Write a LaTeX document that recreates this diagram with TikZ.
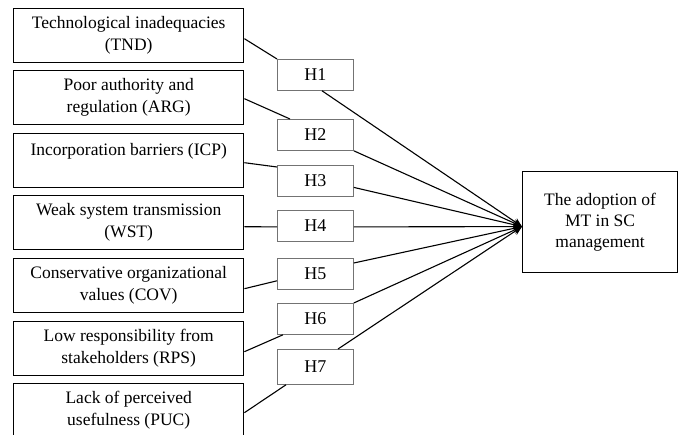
\documentclass[tikz,border=0pt]{standalone}
\usepackage{fontspec}
\setmainfont{Liberation Serif}
\usetikzlibrary{calc,arrows.meta}
\begin{document}
\begin{tikzpicture}[x=1pt,y=-1pt,
  fbox/.style={draw=black,line width=1.4pt,minimum width=230pt,minimum height=54pt,
    inner sep=0pt,align=center,anchor=north west,font=\fontsize{17.5}{22}\selectfont},
  hbox/.style={draw=black!55,line width=0.8pt,minimum width=76pt,minimum height=31pt,
    inner sep=0pt,anchor=north west,font=\fontsize{18}{22}\selectfont},
  tbox/.style={draw=black,line width=1.2pt,minimum width=155pt,minimum height=101pt,
    inner sep=0pt,align=center,anchor=north west,font=\fontsize{17.5}{21}\selectfont},
  link/.style={draw=black,line width=1.1pt},
  arr/.style={link,-{Stealth[length=9pt,width=8pt]}}]
\clip (0,0) rectangle (680,435);
\fill[white] (0,0) rectangle (680,435);
% left boxes
\node[fbox] (TND) at (13,8)   {Technological inadequacies\\(TND)};
\node[fbox] (ARG) at (13,70)  {Poor authority and\\regulation (ARG)};
\node[fbox] (ICP) at (13,133) {Incorporation barriers (ICP)\\\mbox{}};
\node[fbox] (WST) at (13,195) {Weak system transmission\\(WST)};
\node[fbox] (COV) at (13,258) {Conservative organizational\\values (COV)};
\node[fbox] (RPS) at (13,321) {Low responsibility from\\stakeholders (RPS)};
\node[fbox] (PUC) at (13,383) {Lack of perceived\\usefulness (PUC)};
% hypothesis boxes
\node[hbox] (H1) at (277,59)  {H1};
\node[hbox] (H2) at (277,119) {H2};
\node[hbox] (H3) at (277,165) {H3};
\node[hbox] (H4) at (277,210) {H4};
\node[hbox] (H5) at (277,258) {H5};
\node[hbox] (H6) at (277,303) {H6};
\node[hbox,minimum height=35pt] (H7) at (277,349) {H7};
% target
\node[tbox] (T) at (522,171) {The adoption of\\MT in SC\\management};
\coordinate (tip) at ($(T.west)+(0,4.5)$);
% left to H
\draw[link] ($(TND.east)+(0,3)$) -- (H1.north west);
\draw[link] ($(ARG.east)+(0,1)$) -- ($(H2.north west)+(13,0)$);
\draw[link] ($(ICP.east)+(0,2)$) -- ($(H3.north west)+(0,2)$);
\draw[link] ($(WST.east)+(0,4)$) -- ($(H4.west)+(0,1)$);
\draw[link] ($(COV.east)+(0,3)$) -- ($(H5.south west)+(0,-9)$);
\draw[link] ($(RPS.east)+(0,3)$) -- ($(H6.south west)+(6,0)$);
\draw[link] ($(PUC.east)+(0,2)$) -- ($(H7.south west)+(9,0)$);
% H to target
\draw[arr] ($(H1.south west)+(45,0)$) -- (tip);
\draw[arr] (H2.south east) -- (tip);
\draw[arr] ($(H3.east)+(0,6.5)$) -- (tip);
\draw[arr] ($(H4.east)+(0,1)$) -- (tip);
\draw[arr] ($(H5.north east)+(0,5)$) -- (tip);
\draw[arr] (H6.north east) -- (tip);
\draw[arr] ($(H7.north west)+(61,0)$) -- (tip);
\end{tikzpicture}
\end{document}
